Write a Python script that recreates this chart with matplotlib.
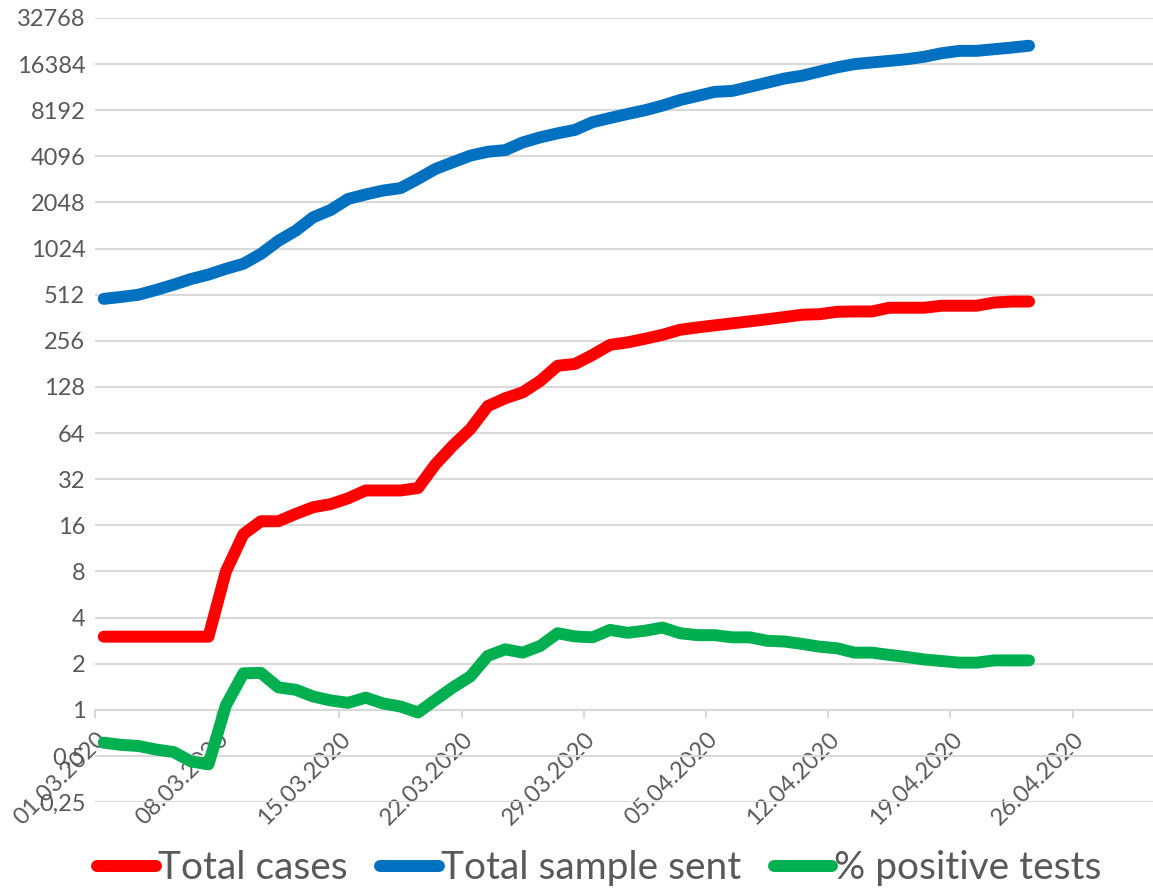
import matplotlib
matplotlib.use("Agg")
import matplotlib.pyplot as plt
import matplotlib.dates as mdates
import matplotlib.transforms as mtrans
import pandas as pd

# daily values, 01.03.2020 - 23.04.2020
dates = pd.date_range("2020-03-01", "2020-04-23", freq="D")

total_cases = [3, 3, 3, 3, 3, 3, 3, 8, 14, 17,
               17, 19, 21, 22, 24, 27, 27, 27, 28, 40,
               53, 68, 96, 108, 118, 140, 176, 181, 207, 241,
               250, 264, 280, 302, 313, 323, 333, 343, 354, 366,
               379, 382, 396, 398, 398, 421, 421, 421, 434, 434,
               434, 455, 462, 462]

total_samples = [481, 495, 512, 550, 595, 648, 693, 756, 815, 945,
                 1150, 1340, 1640, 1830, 2160, 2310, 2450, 2540, 2920, 3390,
                 3750, 4140, 4390, 4500, 5050, 5450, 5790, 6100, 6850, 7290,
                 7740, 8190, 8780, 9540, 10150, 10800, 10950, 11650, 12400, 13200,
                 13760, 14660, 15600, 16384, 16800, 17200, 17640, 18300, 19300, 20000,
                 20000, 20500, 21000, 21600]

pct_positive = [0.61, 0.59, 0.58, 0.55, 0.53, 0.46, 0.44, 1.07, 1.73, 1.74,
                1.40, 1.35, 1.22, 1.15, 1.11, 1.20, 1.10, 1.05, 0.96, 1.16,
                1.40, 1.65, 2.25, 2.48, 2.36, 2.61, 3.16, 3.01, 2.97, 3.32,
                3.18, 3.28, 3.44, 3.16, 3.07, 3.07, 2.97, 2.97, 2.82, 2.79,
                2.69, 2.58, 2.52, 2.36, 2.36, 2.28, 2.21, 2.13, 2.08, 2.03,
                2.03, 2.10, 2.10, 2.10]

y_ticks = [0.25, 0.5, 1, 2, 4, 8, 16, 32, 64, 128, 256, 512, 1024,
           2048, 4096, 8192, 16384, 32768]
y_labels = ["0,25", "0,5", "1", "2", "4", "8", "16", "32", "64", "128", "256",
            "512", "1024", "2048", "4096", "8192", "16384", "32768"]
x_ticks = pd.date_range("2020-03-01", "2020-04-26", freq="7D")

plt.rcParams['font.family'] = ['Lato', 'DejaVu Sans']
txt = '#595959'
grid = '#d9d9d9'

fig = plt.figure(figsize=(11.53, 8.92), dpi=100)
ax = fig.add_axes([95 / 1153, 90 / 892, 1058 / 1153, 784 / 892])

# points sit in the middle of each day, lines drawn over the tick labels
xs = dates + pd.Timedelta(hours=12)
kw = dict(lw=8.6, solid_capstyle='round', solid_joinstyle='round', zorder=3)
ax.plot(xs, total_cases, color='#ff0000', label='Total cases', **kw)
ax.plot(xs, total_samples, color='#0070c0', label='Total sample sent', **kw)
ax.plot(xs, pct_positive, color='#00b050', label='% positive tests', **kw)

ax.set_yscale('log', base=2)
ax.set_ylim(0.25, 32768)
ax.set_yticks(y_ticks)
ax.set_yticklabels(y_labels)
ax.yaxis.set_minor_locator(matplotlib.ticker.NullLocator())
ax.set_xlim(dates[0], dates[0] + pd.Timedelta(days=60.6))
ax.set_xticks(x_ticks)
ax.xaxis.set_major_formatter(mdates.DateFormatter('%d.%m.%Y'))

ax.grid(axis='y', color=grid, lw=1.5)
ax.set_axisbelow(True)
for s in ['left', 'right', 'top']:
    ax.spines[s].set_visible(False)
ax.spines['bottom'].set_position(('data', 1))
ax.spines['bottom'].set_color(grid)
ax.spines['bottom'].set_linewidth(1.5)

ax.tick_params(axis='y', length=0, pad=7, labelsize=17, labelcolor=txt)
ax.tick_params(axis='x', length=6, width=1.5, color=grid, pad=4,
               labelsize=17, labelcolor=txt)
shift = mtrans.ScaledTranslation(0.08, -0.12, fig.dpi_scale_trans)
for lab in ax.get_xticklabels():
    lab.set_rotation(45)
    lab.set_ha('right')
    lab.set_va('center')
    lab.set_rotation_mode('anchor')
    lab.set_transform(lab.get_transform() + shift)

leg = fig.legend(loc='lower center', ncol=3, bbox_to_anchor=(0.52, -0.033),
                 frameon=False, fontsize=28, handlelength=1.5,
                 handletextpad=0.05, columnspacing=0.85)
for t in leg.get_texts():
    t.set_color(txt)

fig.savefig('out.png', dpi=100)
